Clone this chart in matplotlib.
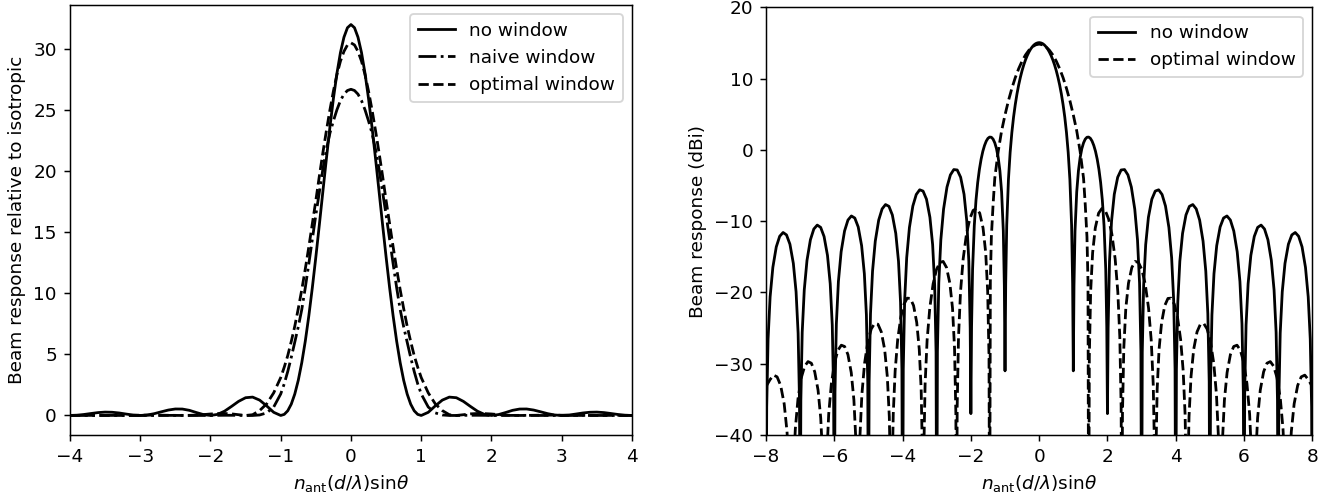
import matplotlib
matplotlib.use("Agg")
import matplotlib.pyplot as plt

# ---------------- data ----------------
series_labels = ["no window", "naive window", "optimal window"]
xlabel_text = r"$n_{\mathrm{ant}}(d/\lambda)\mathrm{sin}\theta$"
ylabel_left = "Beam response relative to isotropic"
ylabel_right = "Beam response (dBi)"
left_xticks = [-4, -3, -2, -1, 0, 1, 2, 3, 4]
left_yticks = [0, 5, 10, 15, 20, 25, 30]
right_xticks = [-8, -6, -4, -2, 0, 2, 4, 6, 8]
right_yticks = [-40, -30, -20, -10, 0, 10, 20]

# Left panel (linear)
left_x = [
    -4.0, -3.9, -3.8, -3.7, -3.6, -3.5, -3.4, -3.3, -3.2, -3.1, -3.0, -2.9, -2.8, -2.7, -2.6, -2.5,
    -2.4, -2.3, -2.2, -2.1, -2.0, -1.9, -1.8, -1.7, -1.6, -1.5, -1.4, -1.3, -1.2, -1.1, -1.0,
    -0.95, -0.9, -0.85, -0.8, -0.75, -0.7, -0.65, -0.6, -0.55, -0.5, -0.45, -0.4, -0.35, -0.3,
    -0.25, -0.2, -0.15, -0.1, -0.05, 0.0, 0.05, 0.1, 0.15, 0.2, 0.25, 0.3, 0.35, 0.4, 0.45, 0.5,
    0.55, 0.6, 0.65, 0.7, 0.75, 0.8, 0.85, 0.9, 0.95,
    1.0, 1.1, 1.2, 1.3, 1.4, 1.5, 1.6, 1.7, 1.8, 1.9, 2.0, 2.1, 2.2, 2.3, 2.4, 2.5, 2.6, 2.7, 2.8,
    2.9, 3.0, 3.1, 3.2, 3.3, 3.4, 3.5, 3.6, 3.7, 3.8, 3.9, 4.0,
]
left_no_window = [
    0.0, 0.021, 0.080, 0.160, 0.235, 0.275, 0.262, 0.203, 0.114, 0.033, 0.0, 0.038, 0.147, 0.298,
    0.443, 0.53, 0.525, 0.42, 0.238, 0.072, 0.0, 0.087, 0.349, 0.741, 1.153, 1.452, 1.503, 1.256,
    0.782, 0.257, 0.0,
    0.088, 0.382, 0.925, 1.75, 2.88, 4.33, 6.09, 8.15, 10.46, 12.97, 15.62, 18.33, 21.01, 23.58,
    25.94, 28.00, 29.70, 30.96, 31.74, 32.0, 31.74, 30.96, 29.70, 28.00, 25.94, 23.58, 21.01,
    18.33, 15.62, 12.97, 10.46, 8.15, 6.09, 4.33, 2.88, 1.75, 0.925, 0.382, 0.088,
    0.0, 0.257, 0.782, 1.256, 1.503, 1.452, 1.153, 0.741, 0.349, 0.087, 0.0, 0.072, 0.238, 0.42,
    0.525, 0.53, 0.443, 0.298, 0.147, 0.038, 0.0, 0.033, 0.114, 0.203, 0.262, 0.275, 0.235, 0.160,
    0.080, 0.021, 0.0,
]
left_naive = [
    0.0, 0.0, 0.0, 0.0, 0.0, 0.002, 0.004, 0.004, 0.002, 0.0, 0.0, 0.0, 0.0, 0.0, 0.005, 0.008,
    0.008, 0.005, 0.0, 0.0, 0.0, 0.01, 0.015, 0.015, 0.01, 0.0, 0.0, 0.04, 0.21, 0.69, 1.76,
    2.59, 3.6, 4.75, 6.0, 7.26, 8.68, 10.47, 12.42, 14.42, 16.42, 18.29, 20.16, 21.76, 23.10,
    24.11, 25.02, 25.77, 26.3, 26.6, 26.7, 26.6, 26.3, 25.77, 25.02, 24.11, 23.10, 21.76, 20.16,
    18.29, 16.42, 14.42, 12.42, 10.47, 8.68, 7.26, 6.0, 4.75, 3.6, 2.59,
    1.76, 0.69, 0.21, 0.04, 0.0, 0.0, 0.01, 0.015, 0.015, 0.01, 0.0, 0.0, 0.0, 0.005, 0.008, 0.008,
    0.005, 0.0, 0.0, 0.0, 0.0, 0.0, 0.002, 0.004, 0.004, 0.002, 0.0, 0.0, 0.0, 0.0, 0.0,
]
left_optimal = [
    0.006, 0.008, 0.008, 0.007, 0.004, 0.002, 0.0, 0.001, 0.005, 0.012, 0.02, 0.026, 0.027, 0.022,
    0.015, 0.005, 0.0, 0.01, 0.03, 0.07, 0.12, 0.15, 0.16, 0.13, 0.06, 0.0, 0.06, 0.40, 0.95,
    1.85, 3.1,
    3.95, 4.9, 6.05, 7.3, 8.75, 10.3, 12.0, 13.8, 15.7, 17.6, 19.6, 21.5, 23.3, 25.0, 26.55, 27.9,
    29.0, 29.8, 30.33, 30.5, 30.33, 29.8, 29.0, 27.9, 26.55, 25.0, 23.3, 21.5, 19.6, 17.6, 15.7,
    13.8, 12.0, 10.3, 8.75, 7.3, 6.05, 4.9, 3.95,
    3.1, 1.85, 0.95, 0.40, 0.06, 0.0, 0.06, 0.13, 0.16, 0.15, 0.12, 0.07, 0.03, 0.01, 0.0, 0.005,
    0.015, 0.022, 0.027, 0.026, 0.02, 0.012, 0.005, 0.001, 0.0, 0.002, 0.004, 0.007, 0.008, 0.008,
    0.006,
]

# Right panel (dB), no window
right_x_nowin = [
    -8.0, -7.98, -7.94, -7.88, -7.8, -7.7, -7.6, -7.5, -7.4, -7.3, -7.2, -7.12, -7.06, -7.02,
    -7.0, -6.98, -6.94, -6.88, -6.8, -6.7, -6.6, -6.5, -6.4, -6.3, -6.2, -6.12, -6.06, -6.02,
    -6.0, -5.98, -5.94, -5.88, -5.8, -5.7, -5.6, -5.5, -5.4, -5.3, -5.2, -5.12, -5.06, -5.02,
    -5.0, -4.98, -4.94, -4.88, -4.8, -4.7, -4.6, -4.5, -4.4, -4.3, -4.2, -4.12, -4.06, -4.02,
    -4.0, -3.98, -3.94, -3.88, -3.8, -3.7, -3.6, -3.5, -3.4, -3.3, -3.2, -3.12, -3.06, -3.02,
    -3.0, -2.98, -2.94, -2.88, -2.8, -2.7, -2.6, -2.5, -2.4, -2.3, -2.2, -2.12, -2.06, -2.02,
    -2.0, -1.98, -1.95, -1.9, -1.85, -1.8, -1.75, -1.7, -1.65, -1.6, -1.55, -1.5, -1.45, -1.4,
    -1.35, -1.3, -1.25, -1.2, -1.15, -1.1, -1.05, -1.02,
    -1.0, -0.98, -0.95, -0.9, -0.85, -0.8, -0.75, -0.7, -0.65, -0.6, -0.55, -0.5, -0.45, -0.4,
    -0.35, -0.3, -0.25, -0.2, -0.15, -0.1, -0.05,
    0.0,
    0.05, 0.1, 0.15, 0.2, 0.25, 0.3, 0.35, 0.4, 0.45, 0.5, 0.55, 0.6, 0.65, 0.7, 0.75, 0.8, 0.85,
    0.9, 0.95, 0.98, 1.0,
    1.02, 1.05, 1.1, 1.15, 1.2, 1.25, 1.3, 1.35, 1.4, 1.45, 1.5, 1.55, 1.6, 1.65, 1.7, 1.75, 1.8,
    1.85, 1.9, 1.95, 1.98, 2.0,
    2.02, 2.06, 2.12, 2.2, 2.3, 2.4, 2.5, 2.6, 2.7, 2.8, 2.88, 2.94, 2.98, 3.0,
    3.02, 3.06, 3.12, 3.2, 3.3, 3.4, 3.5, 3.6, 3.7, 3.8, 3.88, 3.94, 3.98, 4.0,
    4.02, 4.06, 4.12, 4.2, 4.3, 4.4, 4.5, 4.6, 4.7, 4.8, 4.88, 4.94, 4.98, 5.0,
    5.02, 5.06, 5.12, 5.2, 5.3, 5.4, 5.5, 5.6, 5.7, 5.8, 5.88, 5.94, 5.98, 6.0,
    6.02, 6.06, 6.12, 6.2, 6.3, 6.4, 6.5, 6.6, 6.7, 6.8, 6.88, 6.94, 6.98, 7.0,
    7.02, 7.06, 7.12, 7.2, 7.3, 7.4, 7.5, 7.6, 7.7, 7.8, 7.88, 7.94, 7.98, 8.0,
]
right_db_nowin = [
    -60.0, -36.06, -26.54, -20.61, -16.48, -13.61, -12.12, -11.59, -11.93, -13.23, -15.92, -19.90, -25.71, -35.16,
    -60.0, -35.12, -25.58, -19.65, -15.50, -12.61, -11.10, -10.55, -10.87, -12.15, -14.80, -18.77, -24.56, -34.00,
    -60.0, -33.95, -24.41, -18.46, -14.29, -11.38, -9.84, -9.27, -9.56, -10.81, -13.44, -17.38, -23.16, -32.59,
    -60.0, -32.53, -22.97, -17.00, -12.80, -9.85, -8.28, -7.67, -7.92, -9.13, -11.71, -15.62, -21.38, -30.79,
    -60.0, -30.71, -21.13, -15.13, -10.89, -7.88, -6.26, -5.60, -5.78, -6.92, -9.45, -13.30, -19.01, -28.40,
    -60.0, -28.29, -18.67, -12.62, -8.31, -5.22, -3.51, -2.76, -2.82, -3.84, -6.23, -9.99, -15.63, -24.97,
    -37.0, -24.81, -16.74, -10.61, -7.04, -4.57, -2.72, -1.30, -0.20, 0.62, 1.23, 1.62, 1.80, 1.77,
    1.51, 0.99, 0.18, -1.07, -2.94, -5.90, -11.38, -19.07,
    -31.0, -18.76, -10.56, -4.18, -0.34, 2.43, 4.60, 6.36, 7.85, 9.11, 10.19, 11.13, 11.94, 12.63,
    13.22, 13.72, 14.14, 14.47, 14.73, 14.91, 15.01,
    15.05,
    15.01, 14.91, 14.73, 14.47, 14.14, 13.72, 13.22, 12.63, 11.94, 11.13, 10.19, 9.11, 7.85, 6.36,
    4.60, 2.43, -0.34, -4.18, -10.56, -18.76, -31.0,
    -19.07, -11.38, -5.90, -2.94, -1.07, 0.18, 0.99, 1.51, 1.77, 1.80, 1.62, 1.23, 0.62, -0.20,
    -1.30, -2.72, -4.57, -7.04, -10.61, -16.74, -24.81, -37.0,
    -24.97, -15.63, -9.99, -6.23, -3.84, -2.82, -2.76, -3.51, -5.22, -8.31, -12.62, -18.67, -28.29, -60.0,
    -28.40, -19.01, -13.30, -9.45, -6.92, -5.78, -5.60, -6.26, -7.88, -10.89, -15.13, -21.13, -30.71, -60.0,
    -30.79, -21.38, -15.62, -11.71, -9.13, -7.92, -7.67, -8.28, -9.85, -12.80, -17.00, -22.97, -32.53, -60.0,
    -32.59, -23.16, -17.38, -13.44, -10.81, -9.56, -9.27, -9.84, -11.38, -14.29, -18.46, -24.41, -33.95, -60.0,
    -34.00, -24.56, -18.77, -14.80, -12.15, -10.87, -10.55, -11.10, -12.61, -15.50, -19.65, -25.58, -35.12, -60.0,
    -35.16, -25.71, -19.90, -15.92, -13.23, -11.93, -11.59, -12.12, -13.61, -16.48, -20.61, -26.54, -36.06, -60.0,
]

# Right panel (dB), optimal window
right_x_opt = [
    -8.0, -7.884, -7.78, -7.676, -7.572, -7.468, -7.385, -7.322, -7.281, -7.26,
    -7.24, -7.201, -7.142, -7.064, -6.966, -6.868, -6.77, -6.672, -6.574, -6.476, -6.398, -6.339, -6.30, -6.28,
    -6.261, -6.222, -6.164, -6.086, -5.989, -5.892, -5.795, -5.698, -5.601, -5.504, -5.426, -5.368, -5.329, -5.31,
    -5.29, -5.251, -5.192, -5.114, -5.016, -4.918, -4.82, -4.722, -4.624, -4.526, -4.448, -4.389, -4.35, -4.33,
    -4.311, -4.274, -4.218, -4.144, -4.051, -3.958, -3.865, -3.772, -3.679, -3.586, -3.512, -3.456, -3.419, -3.40,
    -3.38, -3.341, -3.282, -3.204, -3.106, -3.008, -2.91, -2.812, -2.714, -2.616, -2.538, -2.479, -2.44, -2.42,
    -2.401, -2.362, -2.304, -2.226, -2.129, -2.032, -1.935, -1.838, -1.741, -1.644, -1.566, -1.508, -1.469, -1.45,
    -1.43, -1.4, -1.35, -1.3, -1.2, -1.1, -1.0, -0.9, -0.8, -0.7, -0.6, -0.5, -0.4, -0.3, -0.2, -0.1,
    0.0,
    0.1, 0.2, 0.3, 0.4, 0.5, 0.6, 0.7, 0.8, 0.9, 1.0, 1.1, 1.2, 1.3, 1.35, 1.4, 1.43,
    1.45, 1.469, 1.508, 1.566, 1.644, 1.741, 1.838, 1.935, 2.032, 2.129, 2.226, 2.304, 2.362, 2.401,
    2.42, 2.44, 2.479, 2.538, 2.616, 2.714, 2.812, 2.91, 3.008, 3.106, 3.204, 3.282, 3.341, 3.38,
    3.40, 3.419, 3.456, 3.512, 3.586, 3.679, 3.772, 3.865, 3.958, 4.051, 4.144, 4.218, 4.274, 4.311,
    4.33, 4.35, 4.389, 4.448, 4.526, 4.624, 4.722, 4.82, 4.918, 5.016, 5.114, 5.192, 5.251, 5.29,
    5.31, 5.329, 5.368, 5.426, 5.504, 5.601, 5.698, 5.795, 5.892, 5.989, 6.086, 6.164, 6.222, 6.261,
    6.28, 6.30, 6.339, 6.398, 6.476, 6.574, 6.672, 6.77, 6.868, 6.966, 7.064, 7.142, 7.201, 7.24,
    7.26, 7.281, 7.322, 7.385, 7.468, 7.572, 7.676, 7.78, 7.884, 8.0,
]
right_db_opt = [
    -33.2, -32.24, -31.6, -31.84, -33.04, -35.63, -39.53, -45.28, -54.7, -60.0,
    -54.0, -45.16, -39.16, -34.94, -31.95, -30.35, -29.7, -29.93, -31.13, -33.7, -37.6, -43.34, -52.75, -60.0,
    -52.0, -43.09, -37.07, -32.8, -29.76, -28.1, -27.4, -27.58, -28.72, -31.24, -35.09, -40.81, -50.2, -60.0,
    -50.0, -40.35, -34.28, -29.96, -26.85, -25.12, -24.35, -24.46, -25.53, -27.98, -31.78, -37.45, -46.8, -60.0,
    -46.8, -37.1, -31.0, -26.62, -23.44, -21.64, -20.8, -20.84, -21.84, -24.22, -27.96, -33.6, -42.9, -60.0,
    -42.7, -32.9, -26.7, -22.2, -18.8, -16.8, -15.8, -15.65, -16.5, -18.7, -22.2, -27.8, -37.0, -60.0,
    -36.03, -26.25, -19.94, -15.3, -11.8, -9.67, -8.5, -8.21, -8.88, -10.94, -14.42, -19.85, -29.05, -60.0,
    -18.5, -12.2, -7.7, -3.98, -0.22, 2.67, 4.91, 6.90, 8.63, 10.13, 11.40, 12.46, 13.32, 13.98, 14.46, 14.74,
    14.84,
    14.74, 14.46, 13.98, 13.32, 12.46, 11.40, 10.13, 8.63, 6.90, 4.91, 2.67, -0.22, -3.98, -7.7, -12.2, -18.5,
    -60.0, -29.05, -19.85, -14.42, -10.94, -8.88, -8.21, -8.5, -9.67, -11.8, -15.3, -19.94, -26.25, -36.03,
    -60.0, -37.0, -27.8, -22.2, -18.7, -16.5, -15.65, -15.8, -16.8, -18.8, -22.2, -26.7, -32.9, -42.7,
    -60.0, -42.9, -33.6, -27.96, -24.22, -21.84, -20.84, -20.8, -21.64, -23.44, -26.62, -31.0, -37.1, -46.8,
    -60.0, -46.8, -37.45, -31.78, -27.98, -25.53, -24.46, -24.35, -25.12, -26.85, -29.96, -34.28, -40.35, -50.0,
    -60.0, -50.2, -40.81, -35.09, -31.24, -28.72, -27.58, -27.4, -28.1, -29.76, -32.8, -37.07, -43.09, -52.0,
    -60.0, -52.75, -43.34, -37.6, -33.7, -31.13, -29.93, -29.7, -30.35, -31.95, -34.94, -39.16, -45.16, -54.0,
    -60.0, -54.7, -45.28, -39.53, -35.63, -33.04, -31.84, -31.6, -32.24, -33.2,
]

# ---------------- figure ----------------
DPI = 133.5
fig = plt.figure(figsize=(1335 / DPI, 495 / DPI), dpi=DPI)
ax1 = fig.add_axes([0.0524, 0.1212, 0.4210, 0.8687])
ax2 = fig.add_axes([0.5738, 0.1212, 0.4092, 0.8640])

ax1.plot(left_x, left_no_window, color="k", linestyle="-", label=series_labels[0])
ax1.plot(left_x, left_naive, color="k", linestyle="-.", label=series_labels[1])
ax1.plot(left_x, left_optimal, color="k", linestyle="--", label=series_labels[2])
ax1.set_xlim(-4, 4)
ax1.set_ylim(-1.6, 33.6)
ax1.set_xticks(left_xticks)
ax1.set_yticks(left_yticks)
ax1.set_xlabel(xlabel_text)
ax1.set_ylabel(ylabel_left)
ax1.legend(loc="upper right")

ax2.plot(right_x_nowin, right_db_nowin, color="k", linestyle="-", label=series_labels[0])
ax2.plot(right_x_opt, right_db_opt, color="k", linestyle="--", label=series_labels[2])
ax2.set_xlim(-8, 8)
ax2.set_ylim(-40, 20)
ax2.set_xticks(right_xticks)
ax2.set_yticks(right_yticks)
ax2.set_xlabel(xlabel_text)
ax2.set_ylabel(ylabel_right)
ax2.legend(loc="upper right")

fig.savefig("out.png", dpi=DPI)
